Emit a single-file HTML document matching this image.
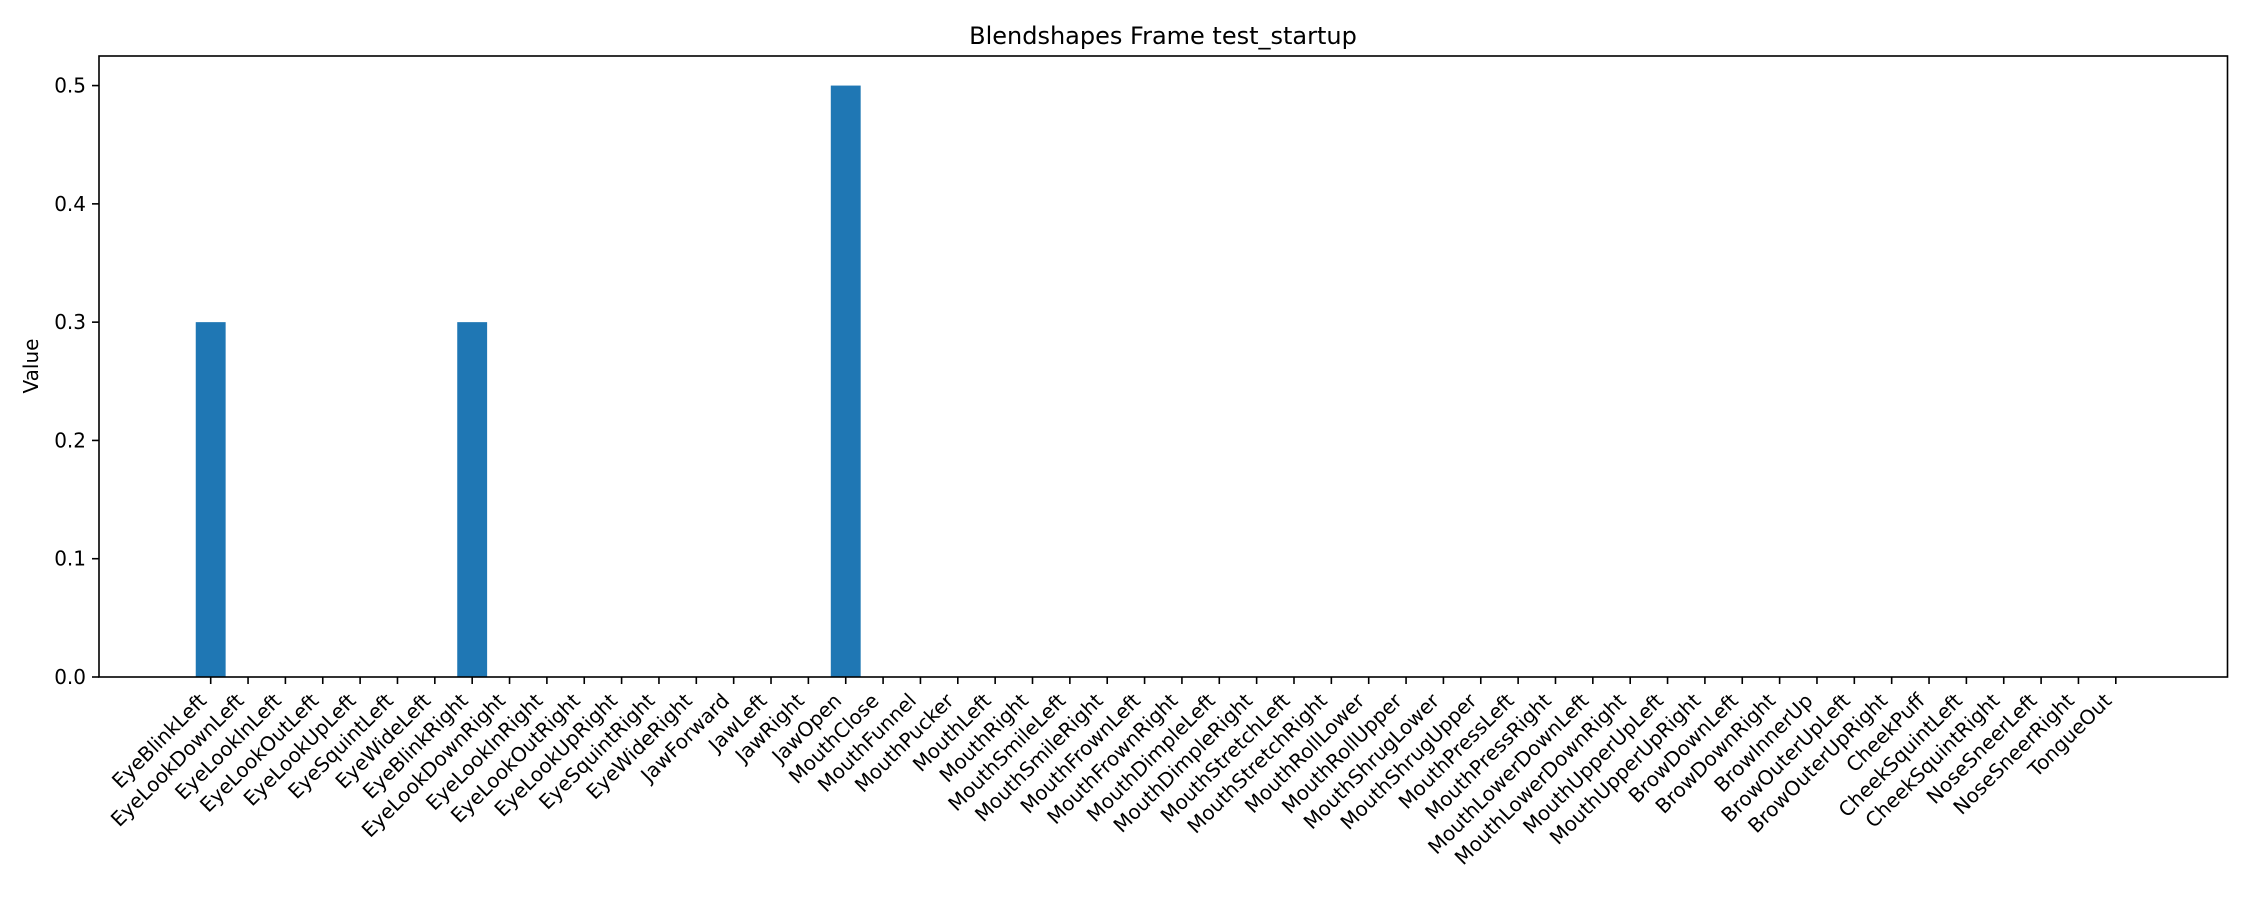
<!DOCTYPE html>
<html><head><meta charset="utf-8"><style>
html,body{margin:0;padding:0;background:#fff;}
svg{display:block;font-family:"DejaVu Sans","Liberation Sans",sans-serif;}
</style></head><body>
<svg id="chart" width="2250" height="900" viewBox="0 0 2250 900">
<rect width="2250" height="900" fill="#fff"/>
<text x="1163" y="44" font-size="24" text-anchor="middle" fill="#000">Blendshapes Frame test_startup</text>
<text transform="translate(38,366) rotate(-90)" font-size="20" text-anchor="middle" fill="#000">Value</text>
<g id="bars"></g><g id="yticks"></g><g id="xticks"></g>
<rect x="99" y="56" width="2128.5" height="621" fill="none" stroke="#000" stroke-width="1.6"/>
</svg>
<script>
const categories=["EyeBlinkLeft","EyeLookDownLeft","EyeLookInLeft","EyeLookOutLeft","EyeLookUpLeft","EyeSquintLeft","EyeWideLeft","EyeBlinkRight","EyeLookDownRight","EyeLookInRight","EyeLookOutRight","EyeLookUpRight","EyeSquintRight","EyeWideRight","JawForward","JawLeft","JawRight","JawOpen","MouthClose","MouthFunnel","MouthPucker","MouthLeft","MouthRight","MouthSmileLeft","MouthSmileRight","MouthFrownLeft","MouthFrownRight","MouthDimpleLeft","MouthDimpleRight","MouthStretchLeft","MouthStretchRight","MouthRollLower","MouthRollUpper","MouthShrugLower","MouthShrugUpper","MouthPressLeft","MouthPressRight","MouthLowerDownLeft","MouthLowerDownRight","MouthUpperUpLeft","MouthUpperUpRight","BrowDownLeft","BrowDownRight","BrowInnerUp","BrowOuterUpLeft","BrowOuterUpRight","CheekPuff","CheekSquintLeft","CheekSquintRight","NoseSneerLeft","NoseSneerRight","TongueOut"];
const values=[0.3,0,0,0,0,0,0,0.3,0,0,0,0,0,0,0,0,0,0.5,0,0,0,0,0,0,0,0,0,0,0,0,0,0,0,0,0,0,0,0,0,0,0,0,0,0,0,0,0,0,0,0,0,0];
const yTicks=[0,0.1,0.2,0.3,0.4,0.5];
const yTickLabels=["0.0","0.1","0.2","0.3","0.4","0.5"];
const NS="http://www.w3.org/2000/svg";
const L=99,R=2227.5,T=56,B=677;
const n=categories.length;
const xmin=-0.4-0.05*(n-0.2),xmax=n-1+0.4+0.05*(n-0.2);
const ymax=Math.max(...values)*1.05||1;
function xs(v){return L+(v-xmin)/(xmax-xmin)*(R-L);}
function ys(v){return B-v/ymax*(B-T);}
const bw=xs(0.4)-xs(-0.4);
const gb=document.getElementById('bars'),gy=document.getElementById('yticks'),gx=document.getElementById('xticks');
values.forEach((v,i)=>{
 const r=document.createElementNS(NS,'rect');
 r.setAttribute('x',xs(i)-bw/2);r.setAttribute('width',bw);
 r.setAttribute('y',ys(v));r.setAttribute('height',B-ys(v));
 r.setAttribute('fill','#1f77b4');
 
 
 gb.appendChild(r);
});
yTicks.forEach((t,i)=>{
 const y=ys(t);
 const l=document.createElementNS(NS,'line');
 l.setAttribute('x1',L-7);l.setAttribute('x2',L);l.setAttribute('y1',y);l.setAttribute('y2',y);
 l.setAttribute('stroke','#000');l.setAttribute('stroke-width','1.6');
 
 
 gy.appendChild(l);
 const tx=document.createElementNS(NS,'text');
 tx.setAttribute('x',L-13);tx.setAttribute('y',y+7);tx.setAttribute('font-size','20');tx.setAttribute('text-anchor','end');
 tx.textContent=yTickLabels[i];
 
 
 gy.appendChild(tx);
});
categories.forEach((c,i)=>{
 const x=xs(i);
 const l=document.createElementNS(NS,'line');
 l.setAttribute('x1',x);l.setAttribute('x2',x);l.setAttribute('y1',B);l.setAttribute('y2',B+7);
 l.setAttribute('stroke','#000');l.setAttribute('stroke-width','1.6');
 
 
 gx.appendChild(l);
 const tx=document.createElementNS(NS,'text');
 tx.setAttribute('transform','translate('+(x-3)+','+(B+25)+') rotate(-45)');
 tx.setAttribute('font-size','20');tx.setAttribute('text-anchor','end');
 tx.textContent=c;
 
 
 gx.appendChild(tx);
});
</script>
</body></html>
